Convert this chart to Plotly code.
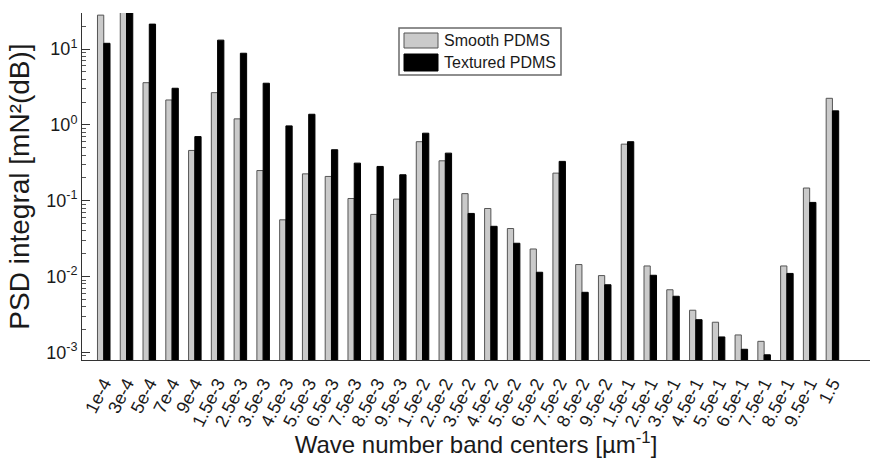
import plotly.graph_objects as go

# Wave number band centers (µm^-1)
bands = ["1e-4", "3e-4", "5e-4", "7e-4", "9e-4",
         "1.5e-3", "2.5e-3", "3.5e-3", "4.5e-3", "5.5e-3", "6.5e-3", "7.5e-3", "8.5e-3", "9.5e-3",
         "1.5e-2", "2.5e-2", "3.5e-2", "4.5e-2", "5.5e-2", "6.5e-2", "7.5e-2", "8.5e-2", "9.5e-2",
         "1.5e-1", "2.5e-1", "3.5e-1", "4.5e-1", "5.5e-1", "6.5e-1", "7.5e-1", "8.5e-1", "9.5e-1",
         "1.5"]

# PSD integral per band [mN^2(dB)]
smooth_pdms = [28, 32, 3.6, 2.13, 0.46,
               2.66, 1.2, 0.25, 0.056, 0.226, 0.209, 0.107, 0.066, 0.105,
               0.60, 0.336, 0.124, 0.079, 0.043, 0.0231, 0.231, 0.0144, 0.0103,
               0.557, 0.0138, 0.0067, 0.0036, 0.0025, 0.0017, 0.0014, 0.0138, 0.147,
               2.24]
textured_pdms = [11.9, 34, 21.3, 3.04, 0.70,
                 13.1, 8.8, 3.54, 0.97, 1.38, 0.47, 0.313, 0.283, 0.22,
                 0.777, 0.424, 0.068, 0.046, 0.0275, 0.0114, 0.33, 0.0062, 0.0078,
                 0.60, 0.0104, 0.0055, 0.0027, 0.0016, 0.0011, 0.00093, 0.011, 0.095,
                 1.53]

y_tick_vals = [1e-3, 1e-2, 1e-1, 1e0, 1e1]
y_tick_text = ["10<sup>-3</sup>", "10<sup>-2</sup>", "10<sup>-1</sup>", "10<sup>0</sup>", "10<sup>1</sup>"]

W, H = 872, 458
ML, MR, MT, MB = 82, 2, 13, 98
FONT = "Liberation Sans, Arial, Helvetica, sans-serif"
INK = "#1a1a1a"


def px(x):
    return (x - ML) / (W - ML - MR)


def py(y):
    return (H - MB - y) / (H - MT - MB)


fig = go.Figure()
fig.add_trace(go.Bar(
    name="Smooth PDMS", x=bands, y=smooth_pdms,
    marker=dict(color="#cacaca", line=dict(color="#555555", width=1)),
    showlegend=False,
))
fig.add_trace(go.Bar(
    name="Textured PDMS", x=bands, y=textured_pdms,
    marker=dict(color="#000000", line=dict(color="#000000", width=1)),
    showlegend=False,
))

# Legend box drawn with shapes and text annotations
shapes = [
    dict(type="rect", xref="paper", yref="paper",
         x0=px(399), x1=px(561), y0=py(75), y1=py(28),
         line=dict(color="#6a6a6a", width=1.5), fillcolor="white"),
    dict(type="rect", xref="paper", yref="paper",
         x0=px(404), x1=px(438), y0=py(48), y1=py(33),
         line=dict(color="#555555", width=1), fillcolor="#cacaca"),
    dict(type="rect", xref="paper", yref="paper",
         x0=px(404), x1=px(438), y0=py(71), y1=py(54),
         line=dict(color="#000000", width=1), fillcolor="#000000"),
]
annotations = [
    dict(text="Smooth PDMS", xref="paper", yref="paper", x=px(442), y=py(41),
         xanchor="left", yanchor="middle", showarrow=False,
         font=dict(family=FONT, size=16, color=INK)),
    dict(text="Textured PDMS", xref="paper", yref="paper", x=px(442), y=py(62),
         xanchor="left", yanchor="middle", showarrow=False,
         font=dict(family=FONT, size=16, color=INK)),
]

fig.update_layout(
    width=W, height=H,
    margin=dict(l=ML, r=MR, t=MT, b=MB),
    paper_bgcolor="white", plot_bgcolor="white",
    barmode="group", bargap=0.45, bargroupgap=0.0,
    font=dict(family=FONT, color=INK),
    shapes=shapes, annotations=annotations,
)

fig.update_xaxes(
    type="category",
    range=[-0.955, 33.65],
    tickmode="linear", tick0=0, dtick=1,
    showline=True, linecolor="#333333", linewidth=1,
    ticks="outside", ticklen=5, tickcolor="rgba(0,0,0,0)",
    showgrid=False, zeroline=False,
    tickangle=-63,
    tickfont=dict(family=FONT, size=18, color=INK),
    title=dict(text="Wave number band centers [µm<sup>-1</sup>]",
               font=dict(family=FONT, size=24, color=INK), standoff=6),
)

fig.update_yaxes(
    type="log",
    range=[-3.1, 1.475],
    showline=True, linecolor="#333333", linewidth=1,
    ticks="inside", ticklen=8, tickcolor="#333333",
    tickvals=y_tick_vals, ticktext=y_tick_text,
    tickfont=dict(family=FONT, size=18, color=INK),
    minor=dict(ticks="inside", ticklen=4, tickcolor="#555555", dtick="D1", showgrid=False),
    showgrid=False, zeroline=False,
    title=dict(text="PSD integral [mN²(dB)]",
               font=dict(family=FONT, size=28, color=INK), standoff=8),
)

fig.write_html("out.html")
